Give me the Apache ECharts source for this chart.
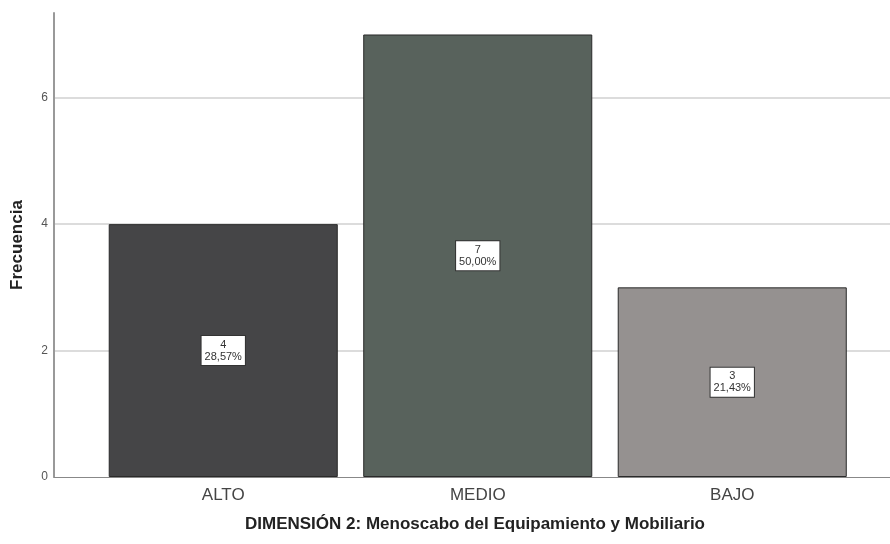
<!DOCTYPE html>
<html>
<head>
<meta charset="utf-8">
<script src="https://cdn.jsdelivr.net/npm/echarts@6/dist/echarts.min.js"></script>
<style>html,body{margin:0;padding:0;background:#fff}#c{width:890px;height:544px}</style>
</head>
<body>
<div id="c"></div>
<script>
const categories = ['ALTO', 'MEDIO', 'BAJO'];
const counts = [4, 7, 3];
const percents = ['28,57%', '50,00%', '21,43%'];
const barColors = ['#454547', '#58625c', '#959190'];
const yTicks = [0, 2, 4, 6];
const yMax = 7.34;

const chart = echarts.init(document.getElementById('c'));
chart.setOption({
  animation: false,
  grid: [
    {left: 54, right: 0, top: 13, bottom: 67, outerBoundsMode: 'none', containLabel: false},
    {left: 96, right: 30.5, top: 13, bottom: 67, outerBoundsMode: 'none', containLabel: false}
  ],
  xAxis: [
    {gridIndex: 0, type: 'value', min: 0, max: 1, show: true,
     axisLine: {show: true, onZero: false, lineStyle: {color: '#888', width: 1}},
     axisTick: {show: false}, axisLabel: {show: false}, splitLine: {show: false}},
    {gridIndex: 1, type: 'category', data: categories,
     axisLine: {show: false}, axisTick: {show: false},
     axisLabel: {color: '#444', fontSize: 17, fontFamily: 'Liberation Sans, Arial', margin: 10}}
  ],
  yAxis: [
    {gridIndex: 0, type: 'value', min: 0, max: yMax, interval: 2,
     name: 'Frecuencia', nameLocation: 'middle', nameGap: 28,
     nameTextStyle: {fontSize: 17, fontWeight: 'bold', color: '#222', fontFamily: 'Liberation Sans, Arial'},
     axisLine: {show: true, lineStyle: {color: '#999', width: 2}},
     axisTick: {show: false},
     axisLabel: {color: '#555', fontSize: 12, fontFamily: 'Liberation Sans, Arial', margin: 6,
       formatter: v => yTicks.includes(v) ? String(v) : ''},
     splitLine: {show: true, showMaxLine: false, showMinLine: false, lineStyle: {color: '#dcdcdc', width: 2}}},
    {gridIndex: 1, type: 'value', min: 0, max: yMax, show: false, splitLine: {show: false}}
  ],
  graphic: [{
    type: 'text', left: 245, top: 516,
    style: {text: 'DIMENSIÓN 2: Menoscabo del Equipamiento y Mobiliario', fontSize: 17, fontWeight: 'bold',
      fill: '#222', fontFamily: 'Liberation Sans, Arial'}
  }],
  series: [{
    type: 'bar', xAxisIndex: 1, yAxisIndex: 1,
    barWidth: '90%',
    data: counts.map((v, i) => ({value: v, itemStyle: {color: barColors[i]}})),
    itemStyle: {borderColor: '#2a2a2a', borderWidth: 1},
    label: {show: true, position: 'inside',
      formatter: p => counts[p.dataIndex] + '\n' + percents[p.dataIndex],
      backgroundColor: '#fff', borderColor: '#333', borderWidth: 1,
      padding: [3, 3, 2, 3], color: '#333', fontSize: 11, lineHeight: 12,
      fontFamily: 'Liberation Sans, Arial', align: 'center'}
  }]
});
</script>
</body>
</html>
